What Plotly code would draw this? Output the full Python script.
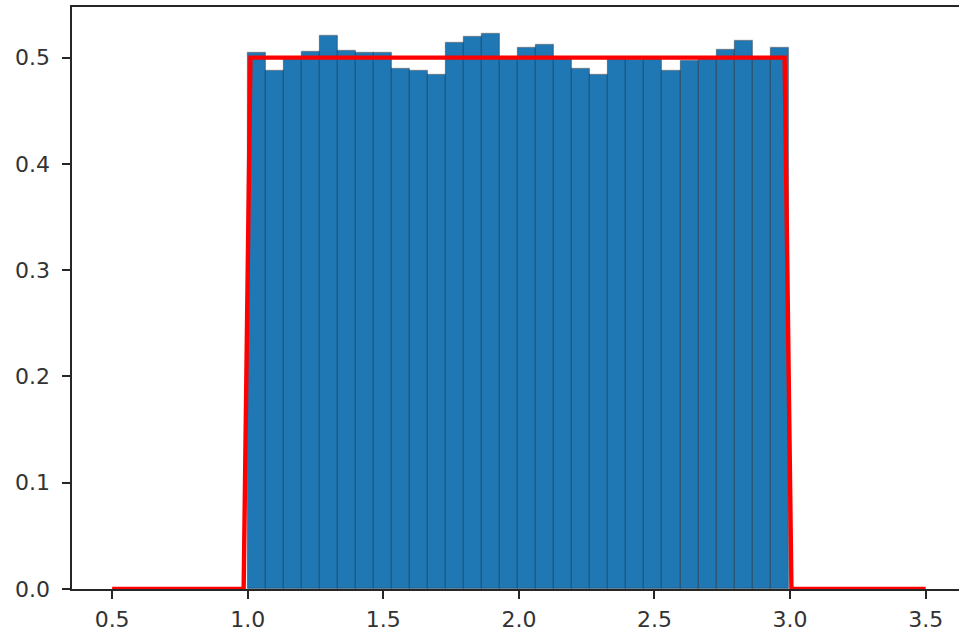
import numpy as np
import plotly.graph_objects as go

# Histogram (density) of samples from a uniform distribution on [1, 3], 30 bins
bin_start = 1.0
bin_end = 2.995
n_bins = 30
heights = [0.504, 0.487, 0.500, 0.505, 0.520, 0.506, 0.504, 0.504, 0.489, 0.487,
           0.484, 0.514, 0.519, 0.522, 0.500, 0.509, 0.512, 0.499, 0.489, 0.484,
           0.499, 0.498, 0.499, 0.487, 0.497, 0.500, 0.507, 0.516, 0.500, 0.509]

# Theoretical pdf line (sampled)
pdf_x = [0.5, 0.985, 1.01, 2.98, 3.005, 3.5]
pdf_y = [0.0, 0.0, 0.5, 0.5, 0.0, 0.0]

x_ticks = [0.5, 1.0, 1.5, 2.0, 2.5, 3.0, 3.5]
y_ticks = [0.0, 0.1, 0.2, 0.3, 0.4, 0.5]

edges = np.linspace(bin_start, bin_end, n_bins + 1)
centers = (edges[:-1] + edges[1:]) / 2
width = edges[1] - edges[0]

fig = go.Figure()
fig.add_trace(go.Bar(
    x=centers, y=heights, width=width,
    marker=dict(color="#1f77b4", line=dict(color="rgba(0,0,0,0.3)", width=1.2)),
    showlegend=False,
))
fig.add_trace(go.Scatter(
    x=pdf_x, y=pdf_y, mode="lines",
    line=dict(color="#ff0000", width=4.4),
    showlegend=False,
))

font = dict(family="DejaVu Sans", size=22, color="#333333")
fig.update_layout(
    width=959, height=634,
    margin=dict(l=72, r=0, t=7, b=45, autoexpand=False),
    paper_bgcolor="white", plot_bgcolor="white",
    bargap=0,
    font=font,
    hovermode=False,
)
fig.update_xaxes(
    range=[0.352, 3.623],
    tickvals=x_ticks, ticktext=[f"{v:.1f}" for v in x_ticks],
    showgrid=False, zeroline=False, automargin=False,
    showline=True, linecolor="#262626", linewidth=1.8, mirror=True,
    ticks="outside", ticklen=7.8, tickwidth=1.8, tickcolor="#262626",
    ticklabelstandoff=2,
    tickfont=font,
)
fig.update_yaxes(
    range=[0, 0.5476],
    tickvals=y_ticks, ticktext=[f"{v:.1f}" for v in y_ticks],
    showgrid=False, zeroline=False, automargin=False,
    showline=True, linecolor="#262626", linewidth=1.8, mirror=False,
    ticks="outside", ticklen=7.8, tickwidth=1.8, tickcolor="#262626",
    ticklabelstandoff=8,
    tickfont=font,
)

fig.write_html(
    "out.html",
    config={"displayModeBar": False},
    post_script="document.body.style.margin='0';document.body.style.overflow='hidden';",
)
